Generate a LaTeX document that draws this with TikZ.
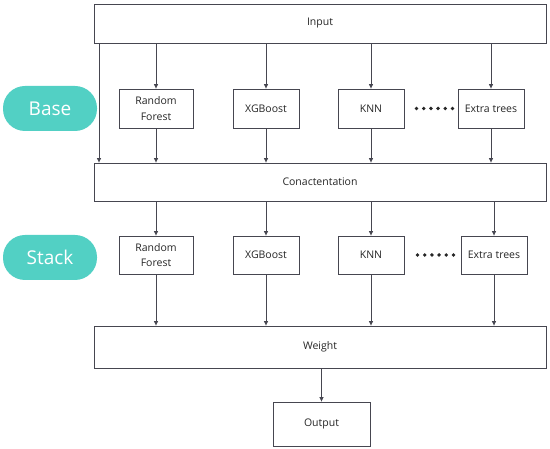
\documentclass[tikz,border=0pt]{standalone}
\usepackage{fontspec}
\setmainfont{Open Sans}
\usetikzlibrary{arrows.meta}
\definecolor{teal1}{RGB}{82,208,196}
\definecolor{linec}{RGB}{70,70,80}
\tikzset{
  box/.style={draw=linec, line width=0.8pt, fill=white, minimum height=39pt, inner sep=0pt, align=center, font=\fontsize{10.5}{15.5}\selectfont, text=black!85},
  pill/.style={fill=teal1, rounded corners=22pt, minimum width=94pt, minimum height=45pt, inner sep=0pt, text=white, font=\fontsize{19}{22}\selectfont},
  arr/.style={draw=linec, line width=0.7pt, -{Triangle[length=4.5pt,width=4pt]}}
}
\begin{document}
\begin{tikzpicture}[x=1pt,y=-1pt]
\useasboundingbox (0,0) rectangle (550,449);
% wide boxes
\node[box, minimum width=452pt, minimum height=39pt] (inp) at (320,23.5) {Input};
\node[box, minimum width=452pt, minimum height=38pt] (conc) at (320,182) {Conactentation};
\node[box, minimum width=452pt, minimum height=42pt] (weight) at (320,347) {Weight};
\node[box, minimum width=97pt, minimum height=44pt] (out) at (321.5,424) {Output};
% pills
\node[pill] (base) at (50,108.5) {Base};
\node[pill] (stack) at (50,257.5) {Stack};
% base row
\node[box, minimum width=74pt] (rf1) at (156,108.5) {Random\\Forest};
\node[box, minimum width=66pt] (xg1) at (266,108.5) {XGBoost};
\node[box, minimum width=66pt] (knn1) at (371,108.5) {KNN};
\node[box, minimum width=66pt] (et1) at (491,108.5) {Extra trees};
% stack row
\node[box, minimum width=74pt, minimum height=38pt] (rf2) at (156,255) {Random\\Forest};
\node[box, minimum width=66pt, minimum height=38pt] (xg2) at (266,255) {XGBoost};
\node[box, minimum width=66pt, minimum height=38pt] (knn2) at (371,255) {KNN};
\node[box, minimum width=66pt, minimum height=38pt] (et2) at (494,255) {Extra trees};
% dots
\foreach \i in {0,...,5} {
  \fill[black!85] (416.5+\i*7.2,108.5) circle (1.9pt);
  \fill[black!85] (417.5+\i*7.2,255) circle (1.9pt);
}
% arrows input -> base
\foreach \n in {rf1,xg1,knn1,et1} {
  \draw[arr] (inp.south -| \n.north) -- (\n.north);
  \draw[arr] (\n.south) -- (conc.north -| \n.south);
}
\coordinate (lft) at (99,0);
\draw[arr] (inp.south -| lft) -- (conc.north -| lft);
% conc -> stack -> weight
\foreach \n in {rf2,xg2,knn2,et2} {
  \draw[arr] (conc.south -| \n.north) -- (\n.north);
  \draw[arr] (\n.south) -- (weight.north -| \n.south);
}
\draw[arr] (weight.south -| out.north) -- (out.north);
\end{tikzpicture}
\end{document}
